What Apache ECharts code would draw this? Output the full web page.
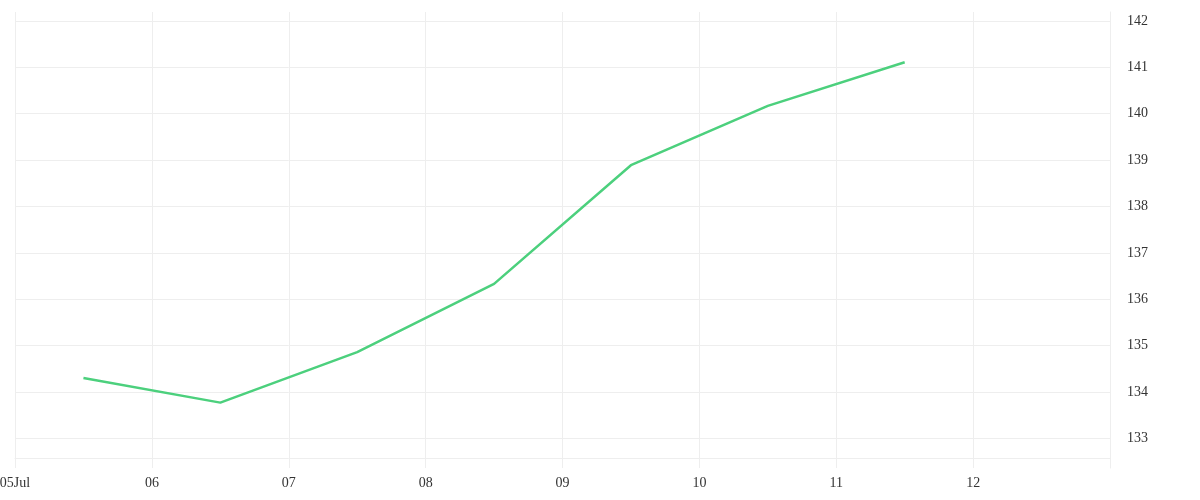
<!DOCTYPE html>
<html>
<head>
<meta charset="utf-8">
<script src="https://cdn.jsdelivr.net/npm/echarts@6/dist/echarts.min.js"></script>
<style>
html,body{margin:0;padding:0;background:#fff;}
#chart{width:1200px;height:500px;}
</style>
</head>
<body>
<div id="chart"></div>
<script>
// Data
const dates = ['2024-07-05T12:00:00Z','2024-07-06T12:00:00Z','2024-07-07T12:00:00Z','2024-07-08T12:00:00Z','2024-07-09T12:00:00Z','2024-07-10T12:00:00Z','2024-07-11T12:00:00Z'];
const values = [134.30, 133.77, 134.86, 136.33, 138.89, 140.17, 141.11];
const xStart = '2024-07-05T00:00:00Z';
const xEnd = '2024-07-13T00:00:00Z';
const yMin = 132.36;
const yMax = 142.194;

const DAY = 86400000;
const chart = echarts.init(document.getElementById('chart'), null, {renderer: 'canvas'});
const font = 'Liberation Serif';
const gridColor = '#eeeeee';

chart.setOption({
  useUTC: true,
  animation: false,
  grid: {left: 15, right: 90, top: 12, bottom: 32, containLabel: false, outerBoundsMode: 'none'},
  xAxis: {
    type: 'time',
    min: Date.parse(xStart),
    max: Date.parse(xEnd),
    minInterval: DAY,
    maxInterval: DAY,
    offset: -10,
    axisLine: {show: true, lineStyle: {color: gridColor, width: 1}},
    axisTick: {show: true, length: 10, lineStyle: {color: gridColor}},
    minorTick: {show: false},
    splitLine: {show: true, lineStyle: {color: gridColor, width: 1}},
    axisLabel: {
      showMaxLabel: false,
      margin: 18,
      color: '#333',
      fontFamily: font,
      fontSize: 14,
      hideOverlap: false,
      formatter: function (v) {
        const d = new Date(v);
        const dd = String(d.getUTCDate()).padStart(2, '0');
        return d.getUTCDate() === 5 ? dd + 'Jul' : dd;
      }
    }
  },
  yAxis: {
    type: 'value',
    position: 'right',
    min: yMin,
    max: yMax,
    splitNumber: 10,
    axisLine: {show: true, lineStyle: {color: gridColor, width: 1}},
    axisTick: {show: false},
    splitLine: {show: true, showMinLine: false, showMaxLine: false, lineStyle: {color: gridColor, width: 1}},
    axisLabel: {
      showMinLabel: false,
      showMaxLabel: false,
      margin: 17,
      padding: [7, 0, 0, 0],
      color: '#333',
      fontFamily: font,
      fontSize: 14,
      formatter: function (v) { return String(Math.round(v)); }
    }
  },
  series: [{
    type: 'line',
    data: dates.map((d, i) => [Date.parse(d), values[i]]),
    showSymbol: false,
    symbol: 'none',
    lineStyle: {color: '#4cd07d', width: 2.5},
    itemStyle: {color: '#4cd07d'}
  }]
});
</script>
</body>
</html>
